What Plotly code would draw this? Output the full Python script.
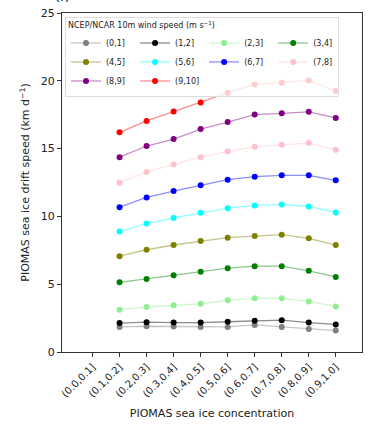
import plotly.graph_objects as go

categories = ["(0.0,0.1]", "(0.1,0.2]", "(0.2,0.3]", "(0.3,0.4]", "(0.4,0.5]",
              "(0.5,0.6]", "(0.6,0.7]", "(0.7,0.8]", "(0.8,0.9]", "(0.9,1.0]"]
wind_labels = ["(0,1]", "(1,2]", "(2,3]", "(3,4]", "(4,5]",
               "(5,6]", "(6,7]", "(7,8]", "(8,9]", "(9,10]"]
colors = ["#808080", "#000000", "#90ee90", "#008000", "#808000",
          "#00ffff", "#0000ff", "#ffc0cb", "#800080", "#ff0000"]

w0_1 = [1.85, 1.90, 1.88, 1.85, 1.85, 2.00, 1.85, 1.70, 1.58]
w1_2 = [2.13, 2.20, 2.17, 2.17, 2.23, 2.30, 2.35, 2.17, 2.03]
w2_3 = [3.12, 3.32, 3.44, 3.56, 3.81, 3.96, 3.96, 3.73, 3.36]
w3_4 = [5.14, 5.39, 5.66, 5.91, 6.18, 6.33, 6.33, 5.99, 5.54]
w4_5 = [7.07, 7.54, 7.89, 8.18, 8.43, 8.55, 8.65, 8.38, 7.89]
w5_6 = [8.88, 9.47, 9.89, 10.26, 10.61, 10.81, 10.88, 10.73, 10.29]
w6_7 = [10.68, 11.40, 11.87, 12.29, 12.71, 12.93, 13.03, 13.03, 12.66]
w7_8 = [12.49, 13.28, 13.82, 14.37, 14.79, 15.13, 15.28, 15.41, 14.91]
w8_9 = [14.37, 15.19, 15.70, 16.44, 16.96, 17.51, 17.60, 17.71, 17.26]
w9_10 = [16.20, 17.04, 17.73, 18.40, 19.12, 19.73, 19.86, 20.03, 19.24]

series = [w0_1, w1_2, w2_3, w3_4, w4_5, w5_6, w6_7, w7_8, w8_9, w9_10]
x_idx = list(range(1, 10))

def rgba(hexc, a):
    h = hexc.lstrip("#")
    r, g, b = int(h[0:2], 16), int(h[2:4], 16), int(h[4:6], 16)
    return f"rgba({r},{g},{b},{a})"

fig = go.Figure()
for i in range(10):
    fig.add_trace(go.Scatter(
        x=x_idx, y=series[i], mode="lines+markers", name=wind_labels[i],
        line=dict(color=rgba(colors[i], 0.45), width=1.3),
        marker=dict(color=colors[i], size=6),
    ))

font = "DejaVu Sans"
fig.update_layout(
    width=370, height=430,
    margin=dict(l=62, r=8, t=13, b=78),
    paper_bgcolor="white", plot_bgcolor="white",
    font=dict(family=font, color="#222", size=11),
    showlegend=True,
    legend=dict(
        orientation="h", x=0.01, y=0.988, xanchor="left", yanchor="top",
        font=dict(size=8, family=font),
        title=dict(text="NCEP/NCAR 10m wind speed (m s<sup>−1</sup>)",
                   side="top", font=dict(size=8, family=font)),
        bgcolor="rgba(255,255,255,0.8)", bordercolor="#dddddd", borderwidth=1,
    ),
    xaxis=dict(
        range=[-1.13, 9.97], tickmode="array", tickvals=list(range(10)),
        ticktext=categories, tickangle=-45, tickfont=dict(size=10),
        ticks="outside", ticklen=4, tickcolor="#333",
        showline=True, linecolor="#333", linewidth=1.2, mirror=True,
        showgrid=False, zeroline=False,
        title=dict(text="PIOMAS sea ice concentration", font=dict(size=11), standoff=10),
    ),
    yaxis=dict(
        range=[0, 25], tickvals=[0, 5, 10, 15, 20, 25],
        ticks="outside", ticklen=4, tickcolor="#333", tickfont=dict(size=11),
        showline=True, linecolor="#333", linewidth=1.2, mirror=True,
        showgrid=False, zeroline=False,
        title=dict(text="PIOMAS sea ice drift speed (km d<sup>−1</sup>)",
                   font=dict(size=11), standoff=8),
    ),
    annotations=[dict(text="(f)", xref="paper", yref="paper", x=-0.03, y=1.02,
                      xanchor="left", yanchor="bottom", showarrow=False,
                      font=dict(size=13, family=font))],
)

fig.write_html("out.html")
